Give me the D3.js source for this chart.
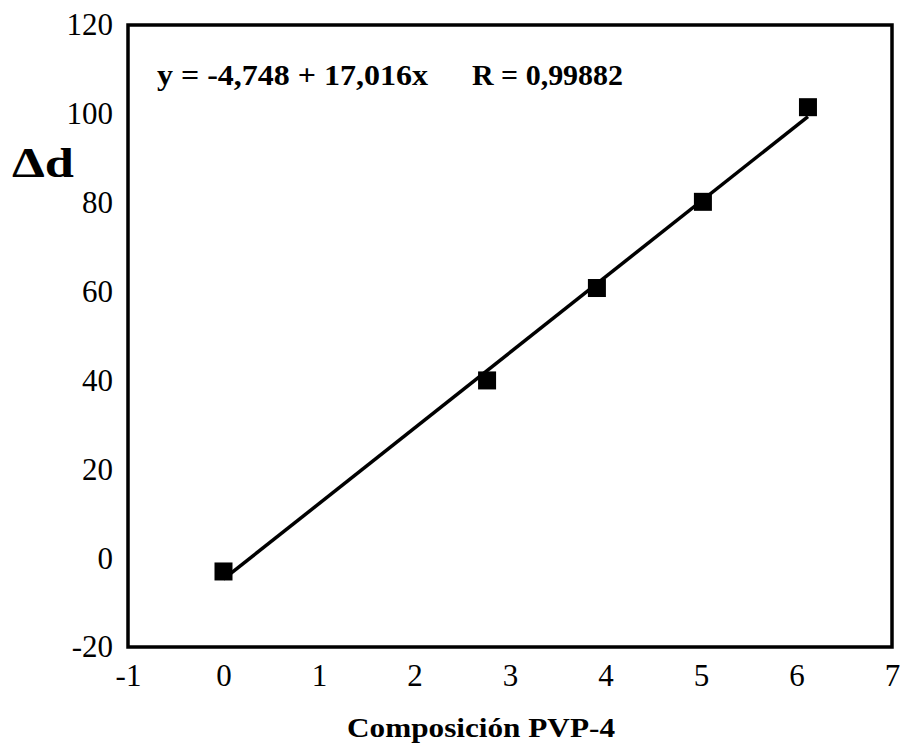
<!DOCTYPE html>
<html>
<head>
<meta charset="utf-8">
<script src="https://cdn.jsdelivr.net/npm/d3@7"></script>
<style>
  html, body { margin: 0; padding: 0; background: #fff; }
  svg { display: block; }
</style>
</head>
<body>
<svg id="chart" width="905" height="745"></svg>
<script>
// Measured composition vs. Δd
const composition = [0, 2.76, 3.91, 5.02, 6.12];
const deltaD = [-3, 40, 60.8, 80.2, 101.5];

// Linear fit coefficients
const intercept = -4.748;
const slope = 17.016;
const fitLabel = "y = -4,748 + 17,016x";
const rLabel = "R = 0,99882";

const xTicks = [-1, 0, 1, 2, 3, 4, 5, 6, 7];
const yTicks = [-20, 0, 20, 40, 60, 80, 100, 120];

const svg = d3.select("#chart");
const plot = { left: 128, right: 892, top: 25, bottom: 647 };

const x = d3.scaleLinear().domain([-1, 7]).range([plot.left, plot.right]);
const y = d3.scaleLinear().domain([-20, 120]).range([plot.bottom, plot.top]);

const serif = "'Liberation Serif', 'Times New Roman', serif";
// plain hyphen for negatives
const fmt = d => (d < 0 ? "-" : "") + Math.abs(d);

// Axes (labels only, no tick marks)
const gx = svg.append("g")
  .attr("transform", `translate(0,${plot.bottom})`)
  .call(d3.axisBottom(x).tickValues(xTicks).tickSize(0).tickPadding(17).tickFormat(fmt));
const gy = svg.append("g")
  .attr("transform", `translate(${plot.left},0)`)
  .call(d3.axisLeft(y).tickValues(yTicks).tickSize(0).tickPadding(15).tickFormat(fmt));
[gx, gy].forEach(g => {
  g.select(".domain").remove();
  g.selectAll("text")
    .attr("font-family", serif)
    .attr("font-size", 31)
    .attr("fill", "#000");
});

// Plot frame
svg.append("rect")
  .attr("x", plot.left).attr("y", plot.top)
  .attr("width", plot.right - plot.left).attr("height", plot.bottom - plot.top)
  .attr("fill", "none")
  .attr("stroke", "#000")
  .attr("stroke-width", 3.5);

// Regression line across the data range
const xMin = d3.min(composition), xMax = d3.max(composition);
svg.append("line")
  .attr("x1", x(xMin)).attr("y1", y(intercept + slope * xMin))
  .attr("x2", x(xMax)).attr("y2", y(intercept + slope * xMax))
  .attr("stroke", "#000")
  .attr("stroke-width", 3.5);

// Data markers
const size = 18;
svg.append("g").selectAll("rect")
  .data(composition.map((c, i) => [c, deltaD[i]]))
  .join("rect")
  .attr("x", d => x(d[0]) - size / 2)
  .attr("y", d => y(d[1]) - size / 2)
  .attr("width", size).attr("height", size)
  .attr("fill", "#000");

// Fit equation
svg.append("text")
  .attr("x", 157).attr("y", 85)
  .attr("font-family", serif).attr("font-weight", "bold").attr("font-size", 30)
  .attr("textLength", 271).attr("lengthAdjust", "spacingAndGlyphs")
  .text(fitLabel);
svg.append("text")
  .attr("x", 472).attr("y", 85)
  .attr("font-family", serif).attr("font-weight", "bold").attr("font-size", 30)
  .attr("textLength", 151).attr("lengthAdjust", "spacingAndGlyphs")
  .text(rLabel);

// Axis titles
svg.append("text")
  .attr("x", 12).attr("y", 177)
  .attr("font-family", serif).attr("font-weight", "bold").attr("font-size", 42)
  .attr("textLength", 62).attr("lengthAdjust", "spacingAndGlyphs")
  .text("Δd");
svg.append("text")
  .attr("x", 347).attr("y", 737)
  .attr("font-family", serif).attr("font-weight", "bold").attr("font-size", 27)
  .attr("textLength", 268).attr("lengthAdjust", "spacingAndGlyphs")
  .text("Composición PVP-4");
</script>
</body>
</html>
